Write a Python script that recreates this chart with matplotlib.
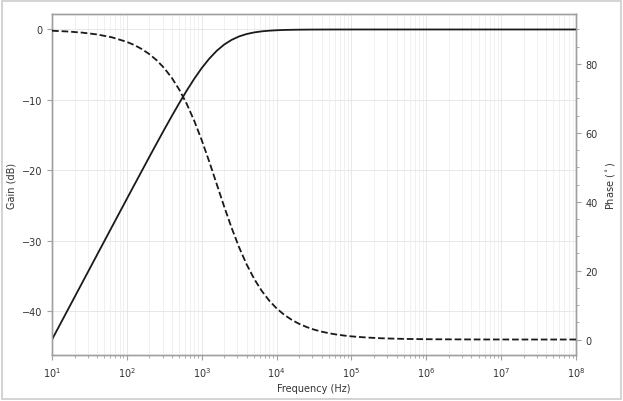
import matplotlib
matplotlib.use("Agg")
import matplotlib.pyplot as plt
from matplotlib.ticker import AutoMinorLocator, FixedLocator
from matplotlib.patches import Rectangle

freq_hz = [10, 15.85, 25.12, 39.81, 63.10, 100, 125.9, 158.5, 199.5, 251.2, 316.2,
           398.1, 501.2, 631.0, 794.3, 1000, 1259, 1585, 1995, 2512, 3162, 3981,
           5012, 6310, 7943, 10000, 12590, 15850, 19950, 25120, 31620, 39810,
           50120, 63100, 79430, 1e5, 1.585e5, 2.512e5, 3.981e5, 6.310e5, 1e6,
           1.585e6, 2.512e6, 3.981e6, 6.310e6, 1e7, 1.585e7, 2.512e7, 3.981e7,
           6.310e7, 1e8]
gain_db = [-44.04, -40.04, -36.04, -32.04, -28.04, -24.05, -22.06, -20.08, -18.10, -16.14, -14.20,
           -12.30, -10.45, -8.67, -7.00, -5.48, -4.15, -3.03, -2.14, -1.47, -0.98, -0.645,
           -0.417, -0.268, -0.171, -0.109, -0.069, -0.044, -0.028, -0.017, -0.011, -0.007,
           -0.004, -0.003, -0.002, -0.001, 0.0, 0.0, 0.0, 0.0, 0.0,
           0.0, 0.0, 0.0, 0.0, 0.0, 0.0, 0.0, 0.0,
           0.0, 0.0]
phase_deg = [89.64, 89.43, 89.10, 88.57, 87.73, 86.40, 85.48, 84.31, 82.85, 81.03, 78.76,
             75.96, 72.52, 68.38, 63.48, 57.86, 51.65, 45.12, 38.58, 32.36, 26.71, 21.79,
             17.62, 14.16, 11.33, 9.04, 7.20, 5.74, 4.56, 3.63, 2.88, 2.29,
             1.82, 1.45, 1.15, 0.91, 0.58, 0.36, 0.23, 0.14, 0.09,
             0.06, 0.04, 0.02, 0.01, 0.01, 0.0, 0.0, 0.0,
             0.0, 0.0]
gain_ticks = [0, -10, -20, -30, -40]
phase_ticks = [0, 20, 40, 60, 80]

plt.rcParams['font.family'] = ['DejaVu Sans']
fig = plt.figure(figsize=(6.23, 4.02), dpi=100)
fig.patches.append(Rectangle((0.004, 0.006), 0.992, 0.989, transform=fig.transFigure,
                             fill=False, edgecolor='#cccccc', linewidth=1.2))
ax = fig.add_axes([0.0835, 0.1144, 0.8411, 0.8483])
ax2 = ax.twinx()

line_col = '#1a1a1a'
ax.semilogx(freq_hz, gain_db, color=line_col, lw=1.3, zorder=3)
ax2.semilogx(freq_hz, phase_deg, color=line_col, lw=1.3, ls='--', zorder=3)

ax.set_xlim(10, 1e8)
ax.set_ylim(-46.24, 2.2)
ax2.set_ylim(-4.5, 94.5)
ax.yaxis.set_major_locator(FixedLocator(gain_ticks))
ax2.yaxis.set_major_locator(FixedLocator(phase_ticks))
ax2.yaxis.set_minor_locator(AutoMinorLocator(4))

ax.grid(True, which='major', axis='both', color='#e8e8e8', lw=0.7)
ax.grid(True, which='minor', axis='x', color='#efefef', lw=0.6)
ax.set_axisbelow(True)

fs = 7
tc = '#333333'
spine_c = '#a0a0a0'
for a in (ax, ax2):
    for s in a.spines.values():
        s.set_color(spine_c)
        s.set_linewidth(1.0)
    a.tick_params(which='both', colors=spine_c, labelcolor=tc, labelsize=fs)
    a.tick_params(which='major', length=3.5)
    a.tick_params(which='minor', length=2)

ax.set_xlabel('Frequency (Hz)', fontsize=fs, color=tc, labelpad=3)
ax.set_ylabel('Gain (dB)', fontsize=fs, color=tc)
ax2.set_ylabel('Phase ($^\\circ$)', fontsize=fs, color=tc)
ax.yaxis.set_label_coords(-0.067, 0.5)
ax2.yaxis.set_label_coords(1.053, 0.5)

fig.savefig('out.png', dpi=100)
